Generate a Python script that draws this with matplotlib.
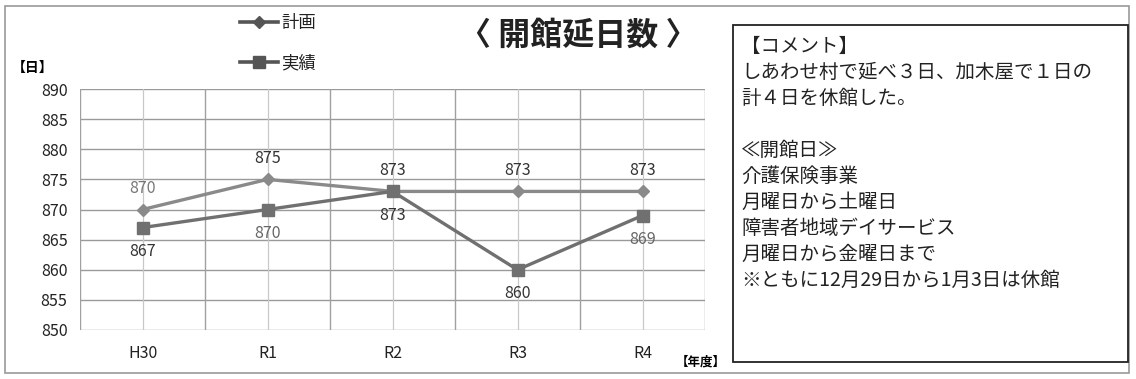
import matplotlib
matplotlib.use("Agg")
import matplotlib.pyplot as plt
from matplotlib.patches import Rectangle

plt.rcParams['font.family'] = ['Noto Sans CJK JP', 'DejaVu Sans']

# 年度別の開館延日数
years = ["H30", "R1", "R2", "R3", "R4"]
plan = [870, 875, 873, 873, 873]
actual = [867, 870, 873, 860, 869]
yticks = [850, 855, 860, 865, 870, 875, 880, 885, 890]

comment_lines = [
    "【コメント】",
    "しあわせ村で延べ３日、加木屋で１日の",
    "計４日を休館した。",
    "",
    "≪開館日≫",
    "介護保険事業",
    "月曜日から土曜日",
    "障害者地域デイサービス",
    "月曜日から金曜日まで",
    "※ともに12月29日から1月3日は休館",
]

W, H = 1136, 379
fig = plt.figure(figsize=(W / 100, H / 100), dpi=100)

# outer frame
fig.patches.append(Rectangle((5 / W, 6 / H), 1124 / W, 367 / H, transform=fig.transFigure,
                             fill=False, edgecolor="#9a9a9a", linewidth=1.2))

ax = fig.add_axes([80 / W, 1 - 330 / H, 625 / W, 241 / H])
x = list(range(len(years)))
plan_color = "#8a8a8a"
actual_color = "#707070"
ax.plot(x, plan, color=plan_color, linewidth=2.4, marker="D", markersize=6, zorder=3)
ax.plot(x, actual, color=actual_color, linewidth=2.4, marker="s", markersize=9, zorder=4)

ax.set_xlim(-0.5, len(years) - 0.5)
ax.set_ylim(850, 890)
ax.set_yticks(yticks)
ax.set_xticks(x)
ax.set_xticklabels(years)
ax.tick_params(axis="both", length=0, labelsize=11.5, colors="#222222")
ax.tick_params(axis="x", pad=11)
ax.tick_params(axis="y", pad=9)

# gridlines at categories and between them
for v in yticks:
    ax.axhline(v, color="#9a9a9a", linewidth=1.0, zorder=1)
for i in range(len(years) + 1):
    ax.axvline(i - 0.5, color="#a0a0a0", linewidth=1.0, zorder=1)
for i in x:
    ax.axvline(i, color="#c8c8c8", linewidth=0.9, zorder=1)
for s in ax.spines.values():
    s.set_visible(False)

# data labels
for i, v in enumerate(plan):
    ax.annotate(str(v), (i, v), xytext=(0, 9), textcoords="offset points",
                ha="center", va="bottom", fontsize=11.5,
                color="#777777" if i == 0 else "#333333")
for i, v in enumerate(actual):
    ax.annotate(str(v), (i, v), xytext=(0, -11), textcoords="offset points",
                ha="center", va="top", fontsize=11.5,
                color="#666666" if i in (1, 4) else "#333333")

# legend
fig.lines.append(plt.Line2D([240 / W, 259 / W, 278 / W], [1 - 22 / H] * 3,
                            transform=fig.transFigure, color="#555555", linewidth=2.6,
                            marker="D", markersize=6, markevery=[1]))
fig.lines.append(plt.Line2D([240 / W, 259 / W, 278 / W], [1 - 62 / H] * 3,
                            transform=fig.transFigure, color="#555555", linewidth=2.6,
                            marker="s", markersize=9, markevery=[1]))
fig.text(281 / W, 1 - 23 / H, "計画", fontsize=12.5, va="center", ha="left", color="#222222")
fig.text(281 / W, 1 - 63 / H, "実績", fontsize=12.5, va="center", ha="left", color="#222222")

fig.text(578 / W, 1 - 36 / H, "〈 開館延日数 〉", fontsize=23, fontweight="bold",
         ha="center", va="center", color="#222222")
fig.text(12 / W, 1 - 68 / H, "【日】", fontsize=10, fontweight="bold", va="center", ha="left")
fig.text(676 / W, 1 - 362 / H, "【年度】", fontsize=9, fontweight="bold", va="center", ha="left")

# comment box
fig.patches.append(Rectangle((733 / W, 1 - 362 / H), 395 / W, 337 / H, transform=fig.transFigure,
                             fill=True, facecolor="white", edgecolor="#222222",
                             linewidth=1.3, zorder=5))
for k, line in enumerate(comment_lines):
    fig.text(741 / W, 1 - (46 + 26 * k) / H, line, fontsize=14, va="center", ha="left",
             color="#222222", zorder=6)

fig.savefig("out.png", dpi=100)
